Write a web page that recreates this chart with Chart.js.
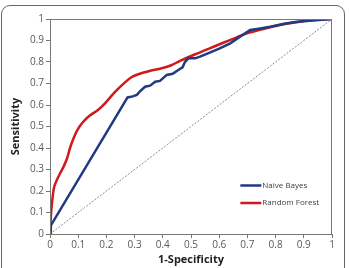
<!DOCTYPE html>
<html>
<head>
<meta charset="utf-8">
<script src="https://cdn.jsdelivr.net/npm/chart.js@4.4.1/dist/chart.umd.min.js"></script>
<style>
  html, body { margin: 0; padding: 0; background: #fff; overflow: hidden; }
  #wrap { position: relative; width: 350px; height: 268px; }
  #frame {
    position: absolute; left: 1px; top: 5px; width: 344px; height: 275px;
    border: 1.5px solid #666; border-radius: 9px; box-sizing: border-box;
  }
  canvas { position: absolute; left: 0; top: 0; }
</style>
</head>
<body>
<div id="wrap">
  <div id="frame"></div>
  <canvas id="rocChart" width="350" height="268"></canvas>
</div>
<script>
const tickValues = [0, 0.1, 0.2, 0.3, 0.4, 0.5, 0.6, 0.7, 0.8, 0.9, 1];

const nbX = [0, 0.003, 0.275, 0.293, 0.308, 0.32, 0.337, 0.355, 0.373, 0.39, 0.414, 0.435, 0.455, 0.47, 0.479, 0.491, 0.515, 0.532, 0.56, 0.6, 0.639, 0.674, 0.71, 0.74, 0.781, 0.83, 0.876, 0.93, 1];
const nbY = [0, 0.04, 0.635, 0.64, 0.647, 0.665, 0.685, 0.69, 0.708, 0.712, 0.74, 0.745, 0.763, 0.775, 0.801, 0.817, 0.817, 0.825, 0.84, 0.862, 0.887, 0.918, 0.949, 0.955, 0.964, 0.978, 0.987, 0.993, 1];

const rfX = [0, 0.004, 0.01, 0.015, 0.024, 0.035, 0.047, 0.06, 0.071, 0.085, 0.1, 0.118, 0.14, 0.17, 0.195, 0.23, 0.266, 0.29, 0.313, 0.35, 0.396, 0.43, 0.461, 0.515, 0.58, 0.64, 0.698, 0.76, 0.816, 0.88, 0.935, 1];
const rfY = [0, 0.1, 0.18, 0.22, 0.25, 0.28, 0.31, 0.35, 0.4, 0.45, 0.49, 0.522, 0.55, 0.577, 0.608, 0.66, 0.705, 0.73, 0.743, 0.757, 0.771, 0.785, 0.805, 0.836, 0.871, 0.903, 0.933, 0.955, 0.972, 0.986, 0.995, 1];

const diagX = [0, 1];
const diagY = [0, 1];

const seriesNames = ["Naive Bayes", "Random Forest"];
const seriesColors = ["#1f3a80", "#d0191c"];

function toPoints(xs, ys) {
    return xs.map((x, i) => ({ x: x, y: ys[i] }));
}

// legend and plot box drawn inside the chart area
const boxAndLegend = {
    id: "boxAndLegend",
    afterDraw(chart) {
        const ctx = chart.ctx;
        const a = chart.chartArea;
        ctx.save();
        ctx.strokeStyle = "#777";
        ctx.lineWidth = 1;
        ctx.strokeRect(a.left + 0.5, a.top + 0.5, a.right - a.left - 1, a.bottom - a.top);
        ctx.font = "8px 'Open Sans'";
        ctx.textBaseline = "middle";
        const lx = a.left + (a.right - a.left) * 0.675;
        const ly = [185.5, 203];
        seriesNames.forEach((name, i) => {
            ctx.strokeStyle = seriesColors[i];
            ctx.lineWidth = 2.5;
            ctx.beginPath();
            ctx.moveTo(lx, ly[i]);
            ctx.lineTo(lx + 21, ly[i]);
            ctx.stroke();
            ctx.fillStyle = "#404040";
            ctx.fillText(name, lx + 22, ly[i]);
        });
        ctx.restore();
    }
};

const rocCtx = document.getElementById("rocChart");

new Chart(rocCtx, {
    type: "scatter",
    data: {
        datasets: [
            {
                label: "diagonal",
                data: toPoints(diagX, diagY),
                showLine: true,
                borderColor: "#8a8a8a",
                borderWidth: 1,
                borderDash: [2, 1.5],
                pointRadius: 0
            },
            {
                label: seriesNames[0],
                data: toPoints(nbX, nbY),
                showLine: true,
                borderColor: seriesColors[0],
                borderWidth: 2.5,
                tension: 0,
                pointRadius: 0
            },
            {
                label: seriesNames[1],
                data: toPoints(rfX, rfY),
                showLine: true,
                borderColor: seriesColors[1],
                borderWidth: 2.5,
                tension: 0.3,
                pointRadius: 0
            }
        ]
    },
    options: {
        responsive: false,
        animation: false,
        layout: { padding: { left: 0, right: 18, top: 19, bottom: 0 } },
        plugins: {
            legend: { display: false },
            tooltip: { enabled: false }
        },
        scales: {
            x: {
                type: "linear",
                min: 0,
                max: 1,
                afterBuildTicks(axis) { axis.ticks = tickValues.map(v => ({ value: v })); },
                afterFit(axis) { axis.height = 34; },
                grid: { drawOnChartArea: false, color: "#777", tickLength: 4 },
                border: { color: "#777" },
                ticks: {
                    color: "#595959",
                    font: { family: "'Open Sans'", size: 10 },
                    padding: 1,
                    maxRotation: 0,
                    callback: v => String(v)
                },
                title: {
                    display: true,
                    text: "1-Specificity",
                    color: "#222",
                    font: { family: "'Open Sans'", size: 11, weight: "bold" },
                    padding: { top: 0, bottom: 2 }
                }
            },
            y: {
                type: "linear",
                min: 0,
                max: 1,
                afterBuildTicks(axis) { axis.ticks = tickValues.map(v => ({ value: v })); },
                afterFit(axis) { axis.width = 50; },
                grid: { drawOnChartArea: false, color: "#777", tickLength: 4 },
                border: { color: "#777" },
                ticks: {
                    color: "#595959",
                    font: { family: "'Open Sans'", size: 10 },
                    padding: 2,
                    callback: v => String(v)
                },
                title: {
                    display: true,
                    text: "Sensitivity",
                    color: "#222",
                    font: { family: "'Open Sans'", size: 11, weight: "bold" },
                    padding: { top: 9, bottom: 0 }
                }
            }
        }
    },
    plugins: [boxAndLegend]
});
</script>
</body>
</html>
